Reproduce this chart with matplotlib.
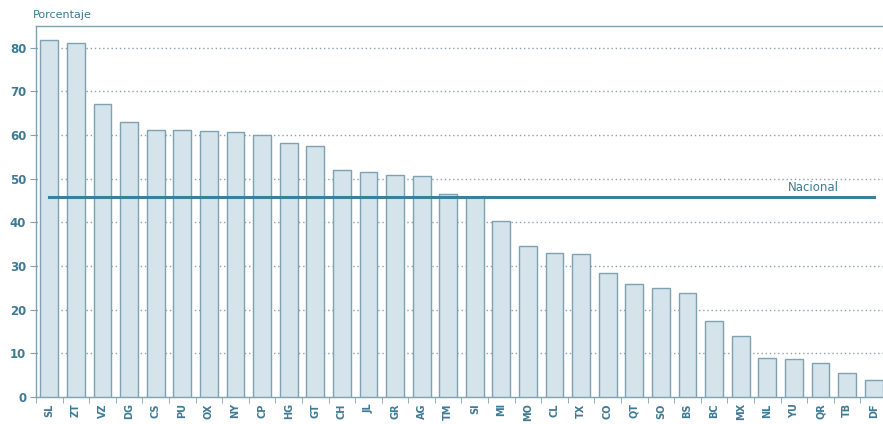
import matplotlib
matplotlib.use("Agg")
import matplotlib.pyplot as plt
import numpy as np

estados = ["SL", "ZT", "VZ", "DG", "CS", "PU", "OX", "NY", "CP", "HG", "GT", "CH", "JL", "GR", "AG", "TM",
           "SI", "MI", "MO", "CL", "TX", "CO", "QT", "SO", "BS", "BC", "MX", "NL", "YU", "QR", "TB", "DF"]
porcentaje = [81.8, 81.1, 67.2, 63.0, 61.1, 61.1, 60.9, 60.6, 60.0, 58.1, 57.6, 51.9, 51.6, 50.9, 50.6, 46.5,
              45.9, 40.3, 34.5, 33.1, 32.7, 28.3, 25.9, 24.9, 23.9, 17.4, 13.9, 9.0, 8.7, 7.8, 5.4, 4.0]
nacional = 45.9
yticks = [0, 10, 20, 30, 40, 50, 60, 70, 80]

txt = "#3f7a94"
bar_face = "#d5e3ea"
bar_edge = "#7ea2b2"
line_c = "#3a8098"

fig = plt.figure(figsize=(8.83, 4.24), dpi=100)
ax = fig.add_axes([36/883, 1 - 397/424, 1 - 36/883, (397 - 26)/424])

x = np.arange(len(estados))
ax.bar(x, porcentaje, width=0.67, color=bar_face, edgecolor=bar_edge, linewidth=1.0, zorder=3)
ax.plot([x[0], x[-1]], [nacional, nacional], color=line_c, linewidth=2.2, zorder=4)
ax.text(29.7, nacional + 0.7, "Nacional", color=txt, fontsize=8.5, ha="right", va="bottom", zorder=5)

for yv in yticks[1:]:
    ax.axhline(yv, color="#8aa3ae", linestyle=(0, (1, 2.0)), linewidth=1.0, zorder=1)

ax.set_xlim(-0.5, 31.35)
ax.set_ylim(0, 85)
ax.set_yticks(yticks)
ax.set_yticklabels([str(v) for v in yticks], color=txt, fontsize=8.5, fontweight="bold")
ax.set_xticks(x)
ax.set_xticklabels(estados, rotation=90, color=txt, fontsize=7, fontweight="bold")
ax.set_xticks(np.arange(-0.5, 31.5, 1.0), minor=True)
ax.tick_params(axis="x", which="major", length=0, pad=4.5)
ax.tick_params(axis="x", which="minor", length=4, color=bar_edge, direction="out")
ax.tick_params(axis="y", length=4, color=bar_edge, direction="out", pad=3)

for s in ["left", "bottom", "top"]:
    ax.spines[s].set_color(bar_edge)
    ax.spines[s].set_linewidth(1.0)
ax.spines["right"].set_visible(False)

fig.text(33/883, 1 - 15/424, "Porcentaje", color=txt, fontsize=8, ha="left", va="center")

fig.savefig("out.png", dpi=100)
